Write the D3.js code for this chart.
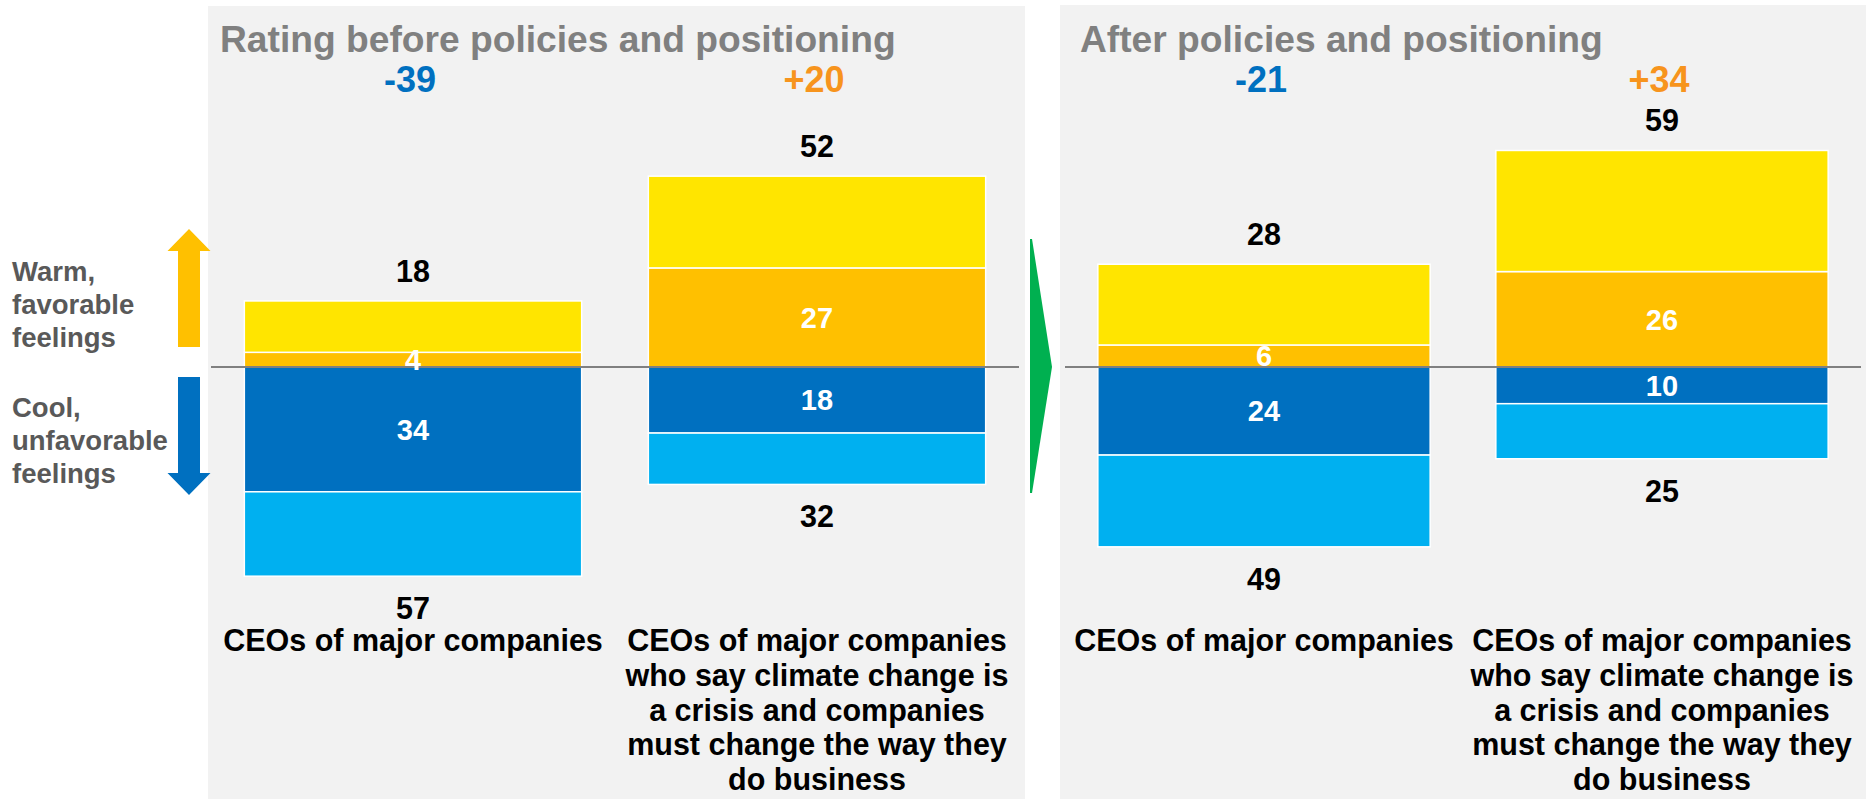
<!DOCTYPE html>
<html>
<head>
<meta charset="utf-8">
<script src="https://cdn.jsdelivr.net/npm/d3@7"></script>
<style>
  html, body { margin: 0; padding: 0; background: #ffffff; }
  svg { display: block; }
  text { font-family: "Liberation Sans", Arial, Helvetica, sans-serif; font-weight: bold; }
</style>
</head>
<body>
<svg id="chart" width="1866" height="799"></svg>
<script>
// ---------- data ----------
const panelTitles = ["Rating before policies and positioning", "After policies and positioning"];
const categories = [
  ["CEOs of major companies"],
  ["CEOs of major companies", "who say climate change is", "a crisis and companies", "must change the way they", "do business"]
];
// per panel: [CEOs overall, CEOs who say climate change is a crisis]
const veryWarm  = [[4, 27], [6, 26]];
const warmTotal = [[18, 52], [28, 59]];
const veryCool  = [[34, 18], [24, 10]];
const coolTotal = [[57, 32], [49, 25]];
const netScore  = [[-39, 20], [-21, 34]];
const sideLabelsWarm = ["Warm,", "favorable", "feelings"];
const sideLabelsCool = ["Cool,", "unfavorable", "feelings"];

// ---------- layout ----------
const W = 1866, H = 799;
const svg = d3.select("#chart");
const colors = {
  yellow: "#FFE500", orange: "#FFC000", dark: "#0070C0", light: "#00B0F0",
  bg: "#F2F2F2", axis: "#808080", title: "#808080", side: "#595959",
  netNeg: "#0070C0", netPos: "#F7941D", green: "#00B050"
};
const zeroY = 367, pxPerUnit = 3.67;
const y = d3.scaleLinear().domain([-60, 60]).range([zeroY + 60 * pxPerUnit, zeroY - 60 * pxPerUnit]);

const panels = [
  { bgX: 208, bgW: 817, bgY: 6, line: [211, 1019], titleX: 220 },
  { bgX: 1060, bgW: 806, bgY: 5, line: [1065, 1861], titleX: 1080 }
];

panels.forEach((p, pi) => {
  const g = svg.append("g");
  g.append("rect").attr("x", p.bgX).attr("y", p.bgY).attr("width", p.bgW).attr("height", H - p.bgY).attr("fill", colors.bg);

  const x = d3.scaleBand().domain(d3.range(2)).range(p.line).paddingInner(0.165).paddingOuter(0.0825);

  // title
  g.append("text").attr("x", p.titleX).attr("y", 52).attr("fill", colors.title)
    .style("font-size", "37.2px").text(panelTitles[pi]);

  const rows = d3.range(2).map(i => ({
    i, vw: veryWarm[pi][i], wt: warmTotal[pi][i], vc: veryCool[pi][i], ct: coolTotal[pi][i], net: netScore[pi][i]
  }));

  rows.forEach(d => {
    const bx = x(d.i), bw = x.bandwidth();
    const segs = [
      { y0: 0, y1: d.vw, c: colors.orange },
      { y0: d.vw, y1: d.wt, c: colors.yellow },
      { y0: 0, y1: -d.vc, c: colors.dark },
      { y0: -d.vc, y1: -d.ct, c: colors.light }
    ];
    g.selectAll(null).data(segs).enter().append("rect")
      .attr("x", bx).attr("width", bw)
      .attr("y", s => Math.min(y(s.y0), y(s.y1)))
      .attr("height", s => Math.abs(y(s.y0) - y(s.y1)))
      .attr("fill", s => s.c).attr("stroke", "#ffffff").attr("stroke-width", 1.5);
  });

  // zero line
  g.append("line").attr("x1", p.line[0]).attr("x2", p.line[1]).attr("y1", y(0)).attr("y2", y(0))
    .attr("stroke", colors.axis).attr("stroke-width", 2);

  rows.forEach(d => {
    const cx = x(d.i) + x.bandwidth() / 2;
    // net score
    g.append("text").attr("x", cx - 3).attr("y", 92).attr("text-anchor", "middle")
      .attr("fill", d.net < 0 ? colors.netNeg : colors.netPos).style("font-size", "36px")
      .text(d.net > 0 ? "+" + d.net : String(d.net));
    // total warm
    g.append("text").attr("x", cx).attr("y", y(d.wt) - 19).attr("text-anchor", "middle")
      .attr("fill", "#000").style("font-size", "30.5px").text(d.wt);
    // total cool
    g.append("text").attr("x", cx).attr("y", y(-d.ct) + 43).attr("text-anchor", "middle")
      .attr("fill", "#000").style("font-size", "30.5px").text(d.ct);
    // inner labels
    g.append("text").attr("x", cx).attr("y", (y(0) + y(d.vw)) / 2).attr("dy", "0.36em").attr("text-anchor", "middle")
      .attr("fill", "#fff").style("font-size", "29px").text(d.vw);
    g.append("text").attr("x", cx).attr("y", (y(0) + y(-d.vc)) / 2).attr("dy", "0.36em").attr("text-anchor", "middle")
      .attr("fill", "#fff").style("font-size", "29px").text(d.vc);
    // category label
    const t = g.append("text").attr("text-anchor", "middle").attr("fill", "#000").style("font-size", "30.5px");
    categories[d.i].forEach((line, li) => {
      t.append("tspan").attr("x", cx).attr("y", 651 + li * 34.8).text(line);
    });
  });
});

// green transition arrow
svg.append("path")
  .attr("d", `M1030,${y(0) - 128} L1032,${y(0) - 128} L1052,${y(0)} L1032,${y(0) + 126} L1030,${y(0) + 126} Z`)
  .attr("fill", colors.green);

// side arrows
function vArrow(c, shaftW, headW, yTip, yHeadBase, yEnd, color) {
  const d = `M${c},${yTip} L${c + headW / 2},${yHeadBase} L${c + shaftW / 2},${yHeadBase} L${c + shaftW / 2},${yEnd} ` +
            `L${c - shaftW / 2},${yEnd} L${c - shaftW / 2},${yHeadBase} L${c - headW / 2},${yHeadBase} Z`;
  svg.append("path").attr("d", d).attr("fill", color);
}
vArrow(189, 22, 43, 229, 251, 347, colors.orange);
vArrow(189, 22, 43, 495, 473, 377, colors.dark);

const side = svg.append("g").attr("fill", colors.side).style("font-size", "27.5px");
sideLabelsWarm.forEach((s, i) => side.append("text").attr("x", 12).attr("y", 281 + i * 33).text(s));
sideLabelsCool.forEach((s, i) => side.append("text").attr("x", 12).attr("y", 417 + i * 33).text(s));
</script>
</body>
</html>
